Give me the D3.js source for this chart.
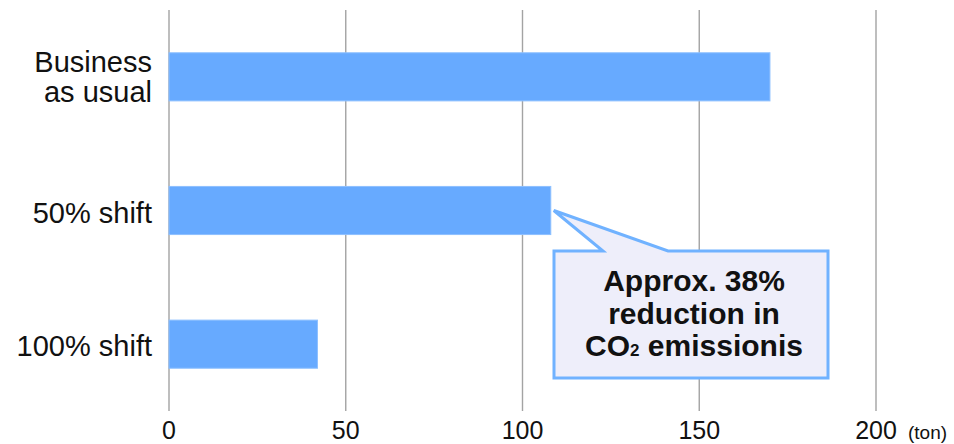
<!DOCTYPE html>
<html>
<head>
<meta charset="utf-8">
<script src="https://cdn.jsdelivr.net/npm/d3@7"></script>
<style>
  html, body { margin: 0; padding: 0; background: #fff; }
  svg { display: block; font-family: "Liberation Sans", Arial, Helvetica, sans-serif; }
</style>
</head>
<body>
<svg id="chart" width="954" height="444"></svg>
<script>
// Scenario names (line breaks marked with "\n")
const categories = ["Business\nas usual", "50% shift", "100% shift"];
// CO2 emissions per scenario (ton)
const emissions = [170, 108, 42];
// Axis ticks
const tickValues = [0, 50, 100, 150, 200];
const unitLabel = "(ton)";
// Callout text, attached to the 50% shift bar
const calloutLines = [["Approx. 38%"], ["reduction in"], ["CO", "2", " emissionis"]];
const calloutIndex = 1;

const svg = d3.select("#chart");

const x = d3.scaleLinear().domain([0, 200]).range([169, 876]);
const y = d3.scaleBand().domain(categories).range([10, 411])
  .paddingInner(0.64).paddingOuter(0.32);

// Vertical grid lines
svg.append("g").selectAll("line").data(tickValues).join("line")
  .attr("x1", d => x(d)).attr("x2", d => x(d))
  .attr("y1", 10).attr("y2", 411)
  .attr("stroke", "#a3a3a3").attr("stroke-width", 1.4);

// Bars
svg.append("g").selectAll("rect").data(emissions).join("rect")
  .attr("x", x(0))
  .attr("y", (d, i) => y(categories[i]))
  .attr("width", d => x(d) - x(0))
  .attr("height", y.bandwidth())
  .attr("fill", "#67aaff")
  .attr("stroke", "#8ec0ff").attr("stroke-width", 1);

// Category labels
const catG = svg.append("g").attr("font-size", 29).attr("fill", "#111").attr("text-anchor", "end");
categories.forEach(c => {
  const lines = c.split("\n");
  const cy = y(c) + y.bandwidth() / 2;
  const lh = 30;
  const first = cy + 12 - (lines.length - 1) * (lh / 2 + 2);
  const t = catG.append("text");
  lines.forEach((ln, i) => {
    t.append("tspan").attr("x", 152).attr("y", first + i * lh).text(ln);
  });
});

// Tick labels
const tickG = svg.append("g").attr("font-size", 25).attr("fill", "#111").attr("text-anchor", "middle");
tickValues.forEach(v => {
  tickG.append("text").attr("x", x(v)).attr("y", 439).text(v);
});
tickG.append("text").attr("x", x(200) + 32).attr("y", 439)
  .attr("font-size", 19).attr("text-anchor", "start").text(unitLabel);

// Callout box with pointer to the bar end
const tipX = x(emissions[calloutIndex]) + 3;
const tipY = y(categories[calloutIndex]) + y.bandwidth() / 2;
const bx0 = 554, bx1 = 828, by0 = 251, by1 = 378;
const px0 = 603, px1 = 668;
const p = d3.path();
p.moveTo(bx0, by0);
p.lineTo(px0, by0);
p.lineTo(tipX, tipY);
p.lineTo(px1, by0);
p.lineTo(bx1, by0);
p.lineTo(bx1, by1);
p.lineTo(bx0, by1);
p.closePath();
svg.append("path").attr("d", p.toString())
  .attr("fill", "#eeeefa").attr("stroke", "#70b2ff").attr("stroke-width", 3)
  .attr("stroke-linejoin", "miter");

const cx = (bx0 + bx1) / 2 + 3;
const callG = svg.append("g").attr("font-size", 30).attr("font-weight", "bold")
  .attr("fill", "#111").attr("text-anchor", "middle");
calloutLines.forEach((parts, i) => {
  const t = callG.append("text").attr("x", cx).attr("y", 291 + i * 32.5);
  parts.forEach((s, j) => {
    const ts = t.append("tspan").text(s);
    if (parts.length > 1 && j === 1) ts.attr("font-size", 17);
  });
});
</script>
</body>
</html>
